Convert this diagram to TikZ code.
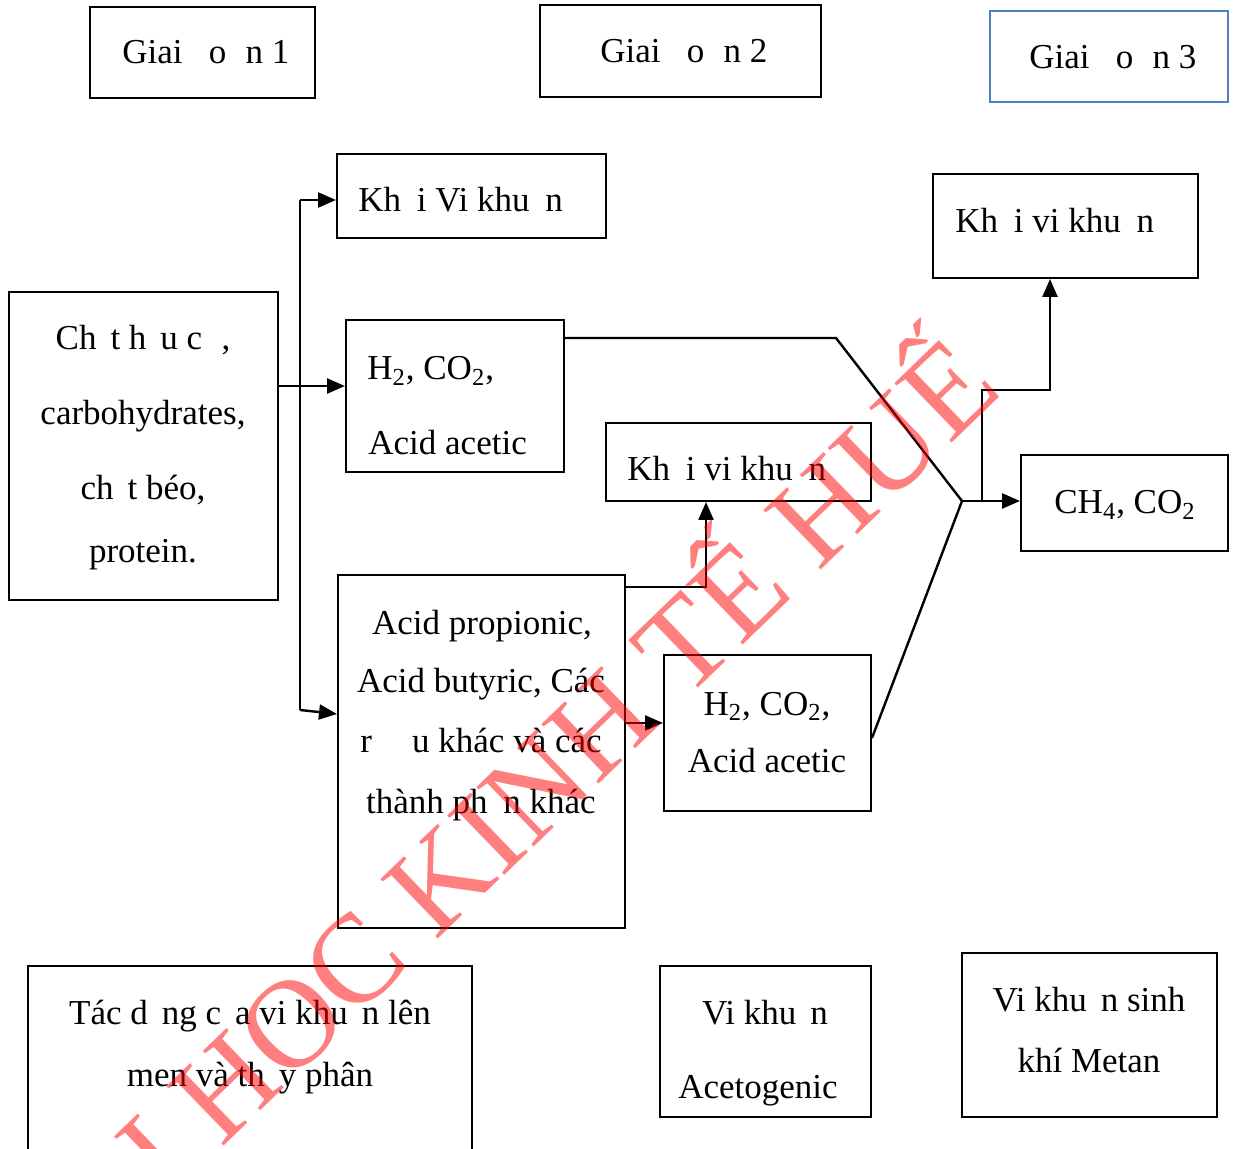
\documentclass[tikz,border=0pt]{standalone}
\usepackage{fontspec}
\setmainfont{Liberation Serif}
\usetikzlibrary{arrows.meta,fit}
\newcommand{\gp}[1]{\hspace{#1em}}
\begin{document}
\begin{tikzpicture}[x=0.5pt,y=-0.5pt,
  box/.style={draw, line width=1pt, inner sep=0pt},
  txt/.style={inner sep=0pt, font=\fontsize{17.5}{21}\selectfont},
  conn/.style={line width=1.2pt},
  arr/.style={line width=1.2pt, -{Triangle[length=9pt,width=7.5pt]}},
  wm/.style={inner sep=0pt, text=red, text opacity=0.5, font=\fontsize{63}{70}\selectfont}]
\clip (0,0) rectangle (1236,1149);
\fill[white] (0,0) rectangle (1236,1149);
% phase boxes
\node[box, fit={(90,7)(315,98)}] (g1) {};
\node[box, fit={(540,5)(821,97)}] (g2) {};
\node[box, draw={rgb,255:red,79;green,129;blue,189}, fit={(990,11)(1228,102)}] (g3) {};
\node[txt, anchor=base west] (g1t) at (122,64) {Giai\gp{.75}o\gp{.55}n 1};
\node[txt, anchor=base west] (g2t) at (600,63) {Giai\gp{.75}o\gp{.55}n 2};
\node[txt, anchor=base west] (g3t) at (1029,69) {Giai\gp{.75}o\gp{.55}n 3};
% boxes
\node[box, fit={(337,154)(606,238)}] (kv1) {};
\node[txt, anchor=base west] (kv1t) at (358,212) {Kh\gp{.45}i Vi khu\gp{.45}n};
\node[box, fit={(9,292)(278,600)}] (chc) {};
\node[txt, anchor=base] (chc1) at (143,350) {Ch\gp{.4}t h\gp{.4}u c\gp{.55},};
\node[txt, anchor=base] (chc2) at (143,425) {carbohydrates,};
\node[txt, anchor=base] (chc3) at (143,500) {ch\gp{.4}t béo,};
\node[txt, anchor=base] (chc4) at (143,562) {protein.};
\node[box, fit={(346,320)(564,472)}] (hc1) {};
\node[txt, anchor=base west] (hc1a) at (367,380) {H\textsubscript{2}, CO\textsubscript{2},};
\node[txt, anchor=base west] (hc1b) at (368,455) {Acid acetic};
\node[box, fit={(606,423)(871,501)}] (kv2) {};
\node[txt, anchor=base west] (kv2t) at (627,481) {Kh\gp{.45}i vi khu\gp{.45}n};
\node[box, fit={(338,575)(625,928)}] (ap) {};
\node[txt, anchor=base] (ap1) at (482,634) {Acid propionic,};
\node[txt, anchor=base] (ap2) at (481,692) {Acid butyric, Các};
\node[txt, anchor=base] (ap3) at (481,752) {r\gp{1.15}u khác và các};
\node[txt, anchor=base] (ap4) at (481,813) {thành ph\gp{.45}n khác};
\node[box, fit={(664,655)(871,811)}] (hc2) {};
\node[txt, anchor=base] (hc2a) at (767,715) {H\textsubscript{2}, CO\textsubscript{2},};
\node[txt, anchor=base] (hc2b) at (767,772) {Acid acetic};
\node[box, fit={(933,174)(1198,278)}] (kv3) {};
\node[txt, anchor=base west] (kv3t) at (955,233) {Kh\gp{.45}i vi khu\gp{.45}n};
\node[box, fit={(1021,455)(1228,551)}] (ch4) {};
\node[txt, anchor=base] (ch4t) at (1125,514) {CH\textsubscript{4}, CO\textsubscript{2}};
% bottom labels
\node[box, fit={(28,966)(472,1200)}] (tac) {};
\node[txt, anchor=base] (tac1) at (250,1024) {Tác d\gp{.4}ng c\gp{.4}a vi khu\gp{.4}n lên};
\node[txt, anchor=base] (tac2) at (250,1086) {men và th\gp{.4}y phân};
\node[box, fit={(660,966)(871,1117)}] (vka) {};
\node[txt, anchor=base] (vka1) at (765,1024) {Vi khu\gp{.4}n};
\node[txt, anchor=base] (vka2) at (758,1098) {Acetogenic};
\node[box, fit={(962,953)(1217,1117)}] (vkm) {};
\node[txt, anchor=base] (vkm1) at (1089,1011) {Vi khu\gp{.4}n sinh};
\node[txt, anchor=base] (vkm2) at (1089,1072) {khí Metan};
% connector points
\coordinate (sTop) at (300,200);
\coordinate (sBot) at (300,710);
\coordinate (sMid) at (300,386);
\coordinate (j1) at (836,338);
\coordinate (jm) at (962,501);
\coordinate (jb) at (982,501);
\coordinate (jb2) at (982,390);
\coordinate (jb3) at (1050,390);
\coordinate (ap5) at (706,587);
% connectors
\draw[arr] (chc.east |- sMid) -- (hc1.west |- sMid);
\draw[conn] (sBot) -- (sTop);
\draw[arr] (sTop) -- (kv1.west |- sTop);
\draw[arr] (sBot) -- (ap.west |- 0,714);
\draw[conn] (hc1.east |- j1) -- (j1) -- (jm);
\draw[conn] (hc2.east |- 0,738) -- (jm);
\draw[arr] (jm) -- (ch4.west |- jm);
\draw[arr] (jb) -- (jb2) -- (jb3) -- (kv3.south -| jb3);
\draw[arr] (ap.east |- ap5) -- (ap5) -- (kv2.south -| ap5);
\draw[arr] (ap.east |- 0,723) -- (hc2.west |- 0,723);
% watermark
\node[wm, rotate=44, anchor=base east] (wmk) at (1005,392) {ĐAI HOC KINH TẾ HUẾ};
\end{tikzpicture}
\end{document}
